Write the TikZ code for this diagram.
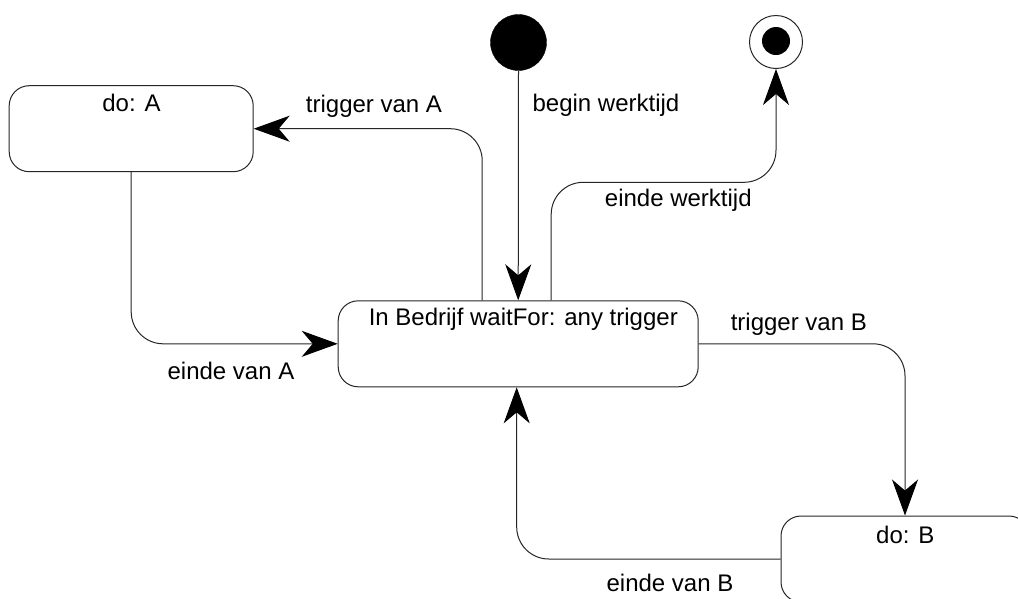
\documentclass[tikz,border=0pt]{standalone}
\usepackage{fontspec}
\setmainfont{Liberation Sans}
\usetikzlibrary{arrows.meta,calc}
\tikzset{
  statebox/.style={draw=black!85, line width=1pt, rounded corners=20pt, inner sep=0pt},
  boxtext/.style={inner sep=0pt, anchor=center, font=\fontsize{24}{28}\selectfont},
  lbl/.style={inner sep=0pt, anchor=center, font=\fontsize{24}{28}\selectfont},
  conn/.style={draw=black!85, line width=1pt, rounded corners=32pt,
    -{Stealth[length=36pt, width=26pt, inset=11pt, color=black]}},
  initstate/.style={circle, fill=black, draw=black, minimum size=56pt, inner sep=0pt},
  finalouter/.style={circle, draw=black!85, line width=1pt, minimum size=53pt, inner sep=0pt},
  finalinner/.style={circle, fill=black, minimum size=28pt, inner sep=0pt},
}
\begin{document}
\begin{tikzpicture}[x=1pt, y=-1pt]
\clip (0,0) rectangle (1018,598);
\fill[white] (0,0) rectangle (1018,598);

% states
\node[initstate] (init) at (518.5,42.5) {};
\node[finalouter] (final) at (776,42) {};
\node[finalinner] (finaldot) at (776,41) {};

\node[statebox, minimum width=244pt, minimum height=86pt] (boxA) at (131.2,128.7) {};
\node[boxtext] (textA) at (131.5,103) {do: A};

\node[statebox, minimum width=360pt, minimum height=86pt] (main) at (518.2,343.8) {};
\node[boxtext] (textMain) at (523.3,319) {In Bedrijf waitFor: any trigger};

\node[statebox, minimum width=248pt, minimum height=86pt] (boxB) at (905,559) {};
\node[boxtext] (textB) at (905.3,535) {do: B};

% connectors
\draw[conn] (init.south) -- (main.north);
\draw[conn] ([xshift=-36pt]main.north) |- (boxA.east);
\draw[conn] (boxA.south) |- (main.west);
\draw[conn] ([xshift=33pt]main.north) -- ++(0,-118) -| (final.south);
\draw[conn] (main.east) -| (boxB.north);
\draw[conn] (boxB.west) -| ([xshift=-1.5pt]main.south);

% labels
\node[lbl] (lBegin) at (606,105) {begin werktijd};
\node[lbl] (lTrigA) at (374,106) {trigger van A};
\node[lbl] (lEindeA) at (231,371) {einde van A};
\node[lbl] (lEindeW) at (678.3,200) {einde werktijd};
\node[lbl] (lTrigB) at (798.8,324) {trigger van B};
\node[lbl] (lEindeB) at (670,583) {einde van B};
\end{tikzpicture}
\end{document}
